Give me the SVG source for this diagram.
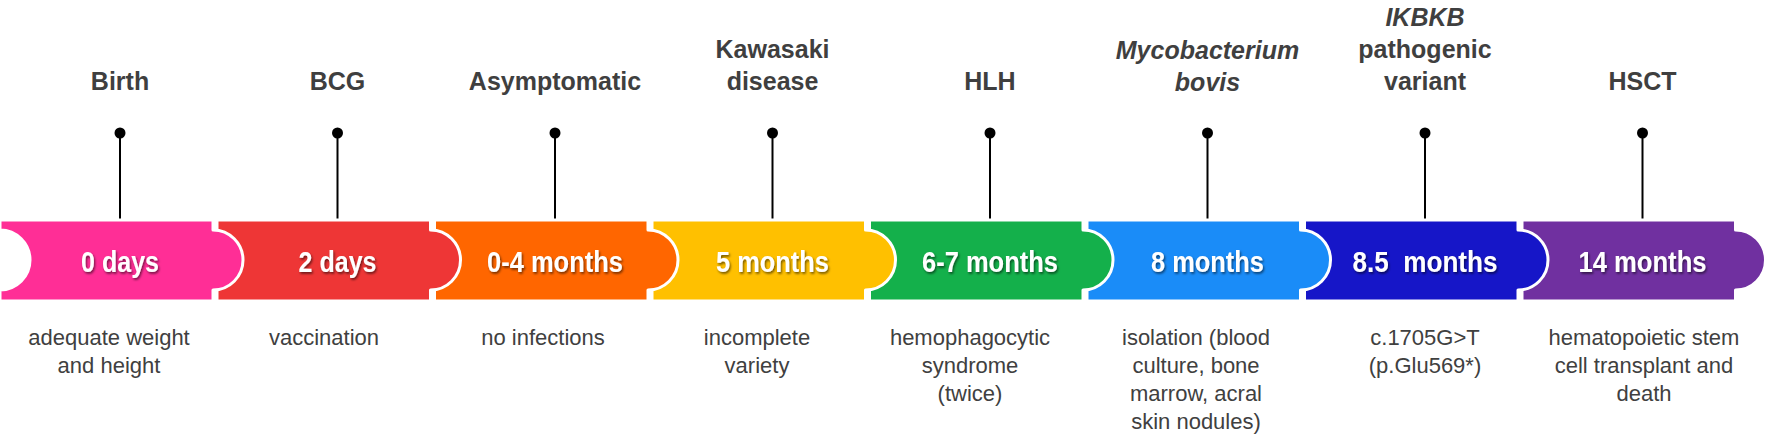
<svg xmlns="http://www.w3.org/2000/svg" width="1772" height="439" viewBox="0 0 1772 439">
<style>
.seg{stroke:#fff;stroke-width:3;stroke-linejoin:round}
.lbl{font-family:"Liberation Sans",Arial,sans-serif;font-weight:bold;font-size:30px;fill:#fff;text-anchor:middle;filter:url(#sh)}
.ttl{font-family:"Liberation Sans",Arial,sans-serif;font-weight:bold;font-size:25px;fill:#3f3f3f;text-anchor:middle}
.dsc{font-family:"Liberation Sans",Arial,sans-serif;font-size:22px;fill:#404040;text-anchor:middle}
.pin{stroke:#000;stroke-width:2;fill:none;marker-start:url(#dot)}
</style>
<defs>
<filter id="sh" x="-20%" y="-30%" width="140%" height="160%">
<feDropShadow dx="1.2" dy="1.8" stdDeviation="0.8" flood-color="#000" flood-opacity="0.55"/>
</filter>
<marker id="dot" markerWidth="12" markerHeight="12" refX="6" refY="6" markerUnits="userSpaceOnUse">
<circle cx="6" cy="6" r="5.5" fill="#000"/>
</marker>
</defs>
<rect width="1772" height="439" fill="#fff"/>

<g id="connectors">
<line class="pin" x1="120" y1="133" x2="120" y2="221"/>
<line class="pin" x1="337.5" y1="133" x2="337.5" y2="221"/>
<line class="pin" x1="555" y1="133" x2="555" y2="221"/>
<line class="pin" x1="772.5" y1="133" x2="772.5" y2="221"/>
<line class="pin" x1="990" y1="133" x2="990" y2="221"/>
<line class="pin" x1="1207.5" y1="133" x2="1207.5" y2="221"/>
<line class="pin" x1="1425" y1="133" x2="1425" y2="221"/>
<line class="pin" x1="1642.5" y1="133" x2="1642.5" y2="221"/>
</g>

<g id="node-hsct">
<path class="seg" fill="#7030A0" d="M1522 220 H1735.5 V230 A30 30 0 0 1 1735.5 290 V301 H1522 Z"/>
<text class="lbl" x="1642.5" y="272" textLength="128" lengthAdjust="spacingAndGlyphs">14 months</text>
<text class="ttl" x="1642.5" y="90">HSCT</text>
<text class="dsc" x="1644" y="345">hematopoietic stem</text>
<text class="dsc" x="1644" y="373">cell transplant and</text>
<text class="dsc" x="1644" y="401">death</text>
</g>

<g id="node-ikbkb">
<path class="seg" fill="#1616C8" d="M1304.5 220 H1518 V230 A30 30 0 0 1 1518 290 V301 H1304.5 Z"/>
<text class="lbl" x="1425" y="272" xml:space="preserve" textLength="145" lengthAdjust="spacingAndGlyphs">8.5  months</text>
<text class="ttl" x="1425" y="26" font-style="italic">IKBKB</text>
<text class="ttl" x="1425" y="58">pathogenic</text>
<text class="ttl" x="1425" y="90">variant</text>
<text class="dsc" x="1425" y="345">c.1705G&gt;T</text>
<text class="dsc" x="1425" y="373">(p.Glu569*)</text>
</g>

<g id="node-mbovis">
<path class="seg" fill="#1A8CF8" d="M1087 220 H1300.5 V230 A30 30 0 0 1 1300.5 290 V301 H1087 Z"/>
<text class="lbl" x="1207.5" y="272" textLength="113" lengthAdjust="spacingAndGlyphs">8 months</text>
<text class="ttl" x="1207.5" y="59" font-style="italic">Mycobacterium</text>
<text class="ttl" x="1207.5" y="91" font-style="italic">bovis</text>
<text class="dsc" x="1196" y="345">isolation (blood</text>
<text class="dsc" x="1196" y="373">culture, bone</text>
<text class="dsc" x="1196" y="401">marrow, acral</text>
<text class="dsc" x="1196" y="429">skin nodules)</text>
</g>

<g id="node-hlh">
<path class="seg" fill="#14B04B" d="M869.5 220 H1083 V230 A30 30 0 0 1 1083 290 V301 H869.5 Z"/>
<text class="lbl" x="990" y="272" textLength="136" lengthAdjust="spacingAndGlyphs">6-7 months</text>
<text class="ttl" x="990" y="90">HLH</text>
<text class="dsc" x="970" y="345">hemophagocytic</text>
<text class="dsc" x="970" y="373">syndrome</text>
<text class="dsc" x="970" y="401">(twice)</text>
</g>

<g id="node-kawasaki">
<path class="seg" fill="#FFC000" d="M652 220 H865.5 V230 A30 30 0 0 1 865.5 290 V301 H652 Z"/>
<text class="lbl" x="772.5" y="272" textLength="113" lengthAdjust="spacingAndGlyphs">5 months</text>
<text class="ttl" x="772.5" y="58">Kawasaki</text>
<text class="ttl" x="772.5" y="90">disease</text>
<text class="dsc" x="757" y="345">incomplete</text>
<text class="dsc" x="757" y="373">variety</text>
</g>

<g id="node-asymptomatic">
<path class="seg" fill="#FF6600" d="M434.5 220 H648 V230 A30 30 0 0 1 648 290 V301 H434.5 Z"/>
<text class="lbl" x="555" y="272" textLength="136" lengthAdjust="spacingAndGlyphs">0-4 months</text>
<text class="ttl" x="555" y="90">Asymptomatic</text>
<text class="dsc" x="543" y="345">no infections</text>
</g>

<g id="node-bcg">
<path class="seg" fill="#EE3636" d="M217 220 H430.5 V230 A30 30 0 0 1 430.5 290 V301 H217 Z"/>
<text class="lbl" x="337.5" y="272" textLength="78" lengthAdjust="spacingAndGlyphs">2 days</text>
<text class="ttl" x="337.5" y="90">BCG</text>
<text class="dsc" x="324" y="345">vaccination</text>
</g>

<g id="node-birth">
<path class="seg" fill="#FF2E96" d="M0 220 H213 V230 A30 30 0 0 1 213 290 V301 H0 V290 A30 30 0 0 0 0 230 Z"/>
<text class="lbl" x="120" y="272" textLength="78" lengthAdjust="spacingAndGlyphs">0 days</text>
<text class="ttl" x="120" y="90">Birth</text>
<text class="dsc" x="109" y="345">adequate weight</text>
<text class="dsc" x="109" y="373">and height</text>
</g>
</svg>
